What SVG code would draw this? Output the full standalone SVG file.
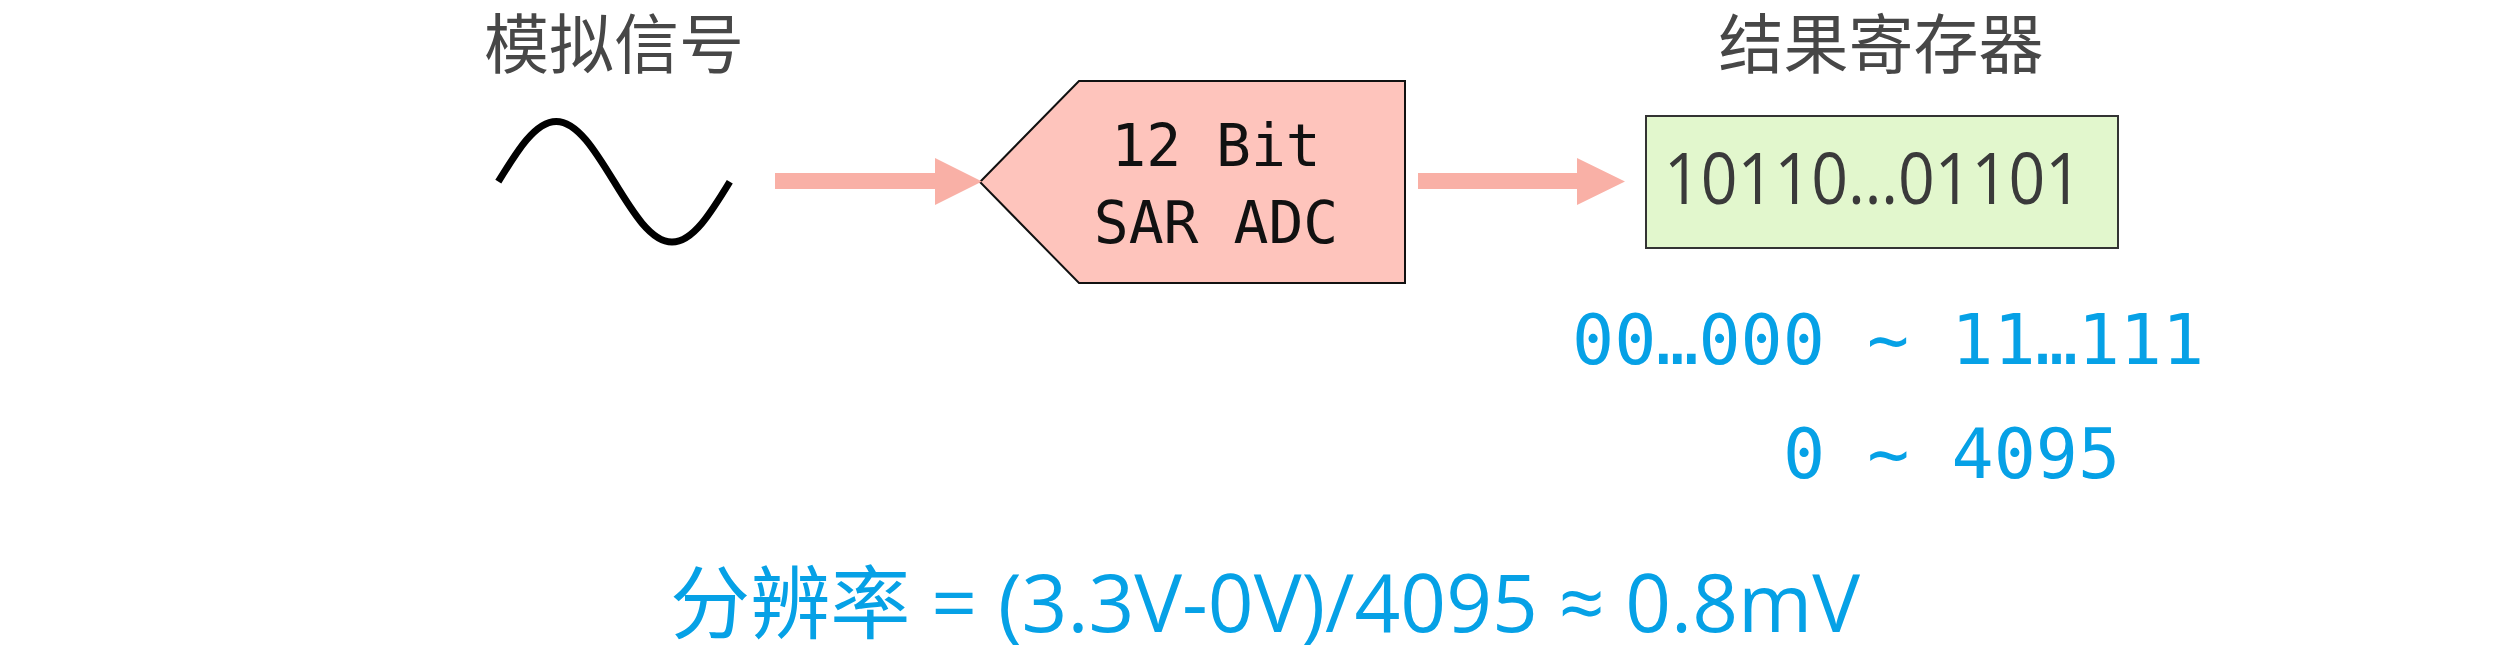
<svg xmlns="http://www.w3.org/2000/svg" width="2517" height="647" viewBox="0 0 2517 647">
<style>
.title{font-family:"Noto Sans CJK SC","Noto Sans",sans-serif;font-size:65px;fill:#474747}
.mono{font-family:"DejaVu Sans Mono","Liberation Mono",monospace}
.adc{font-size:58px;fill:#111}
.blue{font-size:70px;fill:#06a1e6}
.reg{font-family:"Open Sans","Noto Sans","Noto Sans CJK SC",sans-serif;font-size:71px;fill:#3a3a3a}
.formula{font-family:"Open Sans","Noto Sans CJK SC",sans-serif;font-size:80px;fill:#06a1e6}
.arrow{fill:#f9b0a6}
</style>
<rect width="2517" height="647" fill="#ffffff"/>
<g id="signal">
<text class="title" x="614" y="68" text-anchor="middle">模拟信号</text>
<path d="M498.3,181.7 C517.2,150.8 535.2,121.4 556.2,121.4 C577.2,121.4 595.2,150.8 614.1,181.7 C633,212.6 651,242 672,242 C693,242 711,212.6 729.8,181.7" fill="none" stroke="#000" stroke-width="7"/>
</g>
<g id="adc">
<polygon points="980,182 1079,81 1405,81 1405,283 1079,283" fill="#fec4bc" stroke="#111" stroke-width="2"/>
<text class="mono adc" x="1216" y="166" text-anchor="middle">12 Bit</text>
<text class="mono adc" x="1216" y="243" text-anchor="middle">SAR ADC</text>
</g>
<g id="register">
<text class="title" x="1881" y="68" text-anchor="middle">结果寄存器</text>
<rect x="1646" y="116" width="472" height="132" fill="#e2f7cd" stroke="#333" stroke-width="2"/>
<text class="reg" x="1664" y="204" textLength="418" lengthAdjust="spacingAndGlyphs">10110…01101</text>
</g>
<g id="range">
<text class="mono blue" x="1572" y="364">00…000 ~ 11…111</text>
<text class="mono blue" x="1783" y="478">0 ~ 4095</text>
</g>
<g id="resolution">
<text class="formula" x="670" y="632" textLength="1190" lengthAdjust="spacingAndGlyphs">分辨率 = (3.3V-0V)/4095 ≈ 0.8mV</text>
</g>
<g id="connectors">
<path class="arrow" d="M775,173 H935 V158 L982,181.5 L935,205 V189 H775 Z"/>
<path class="arrow" d="M1418,173 H1577 V158 L1625,181.5 L1577,205 V189 H1418 Z"/>
</g>
</svg>
